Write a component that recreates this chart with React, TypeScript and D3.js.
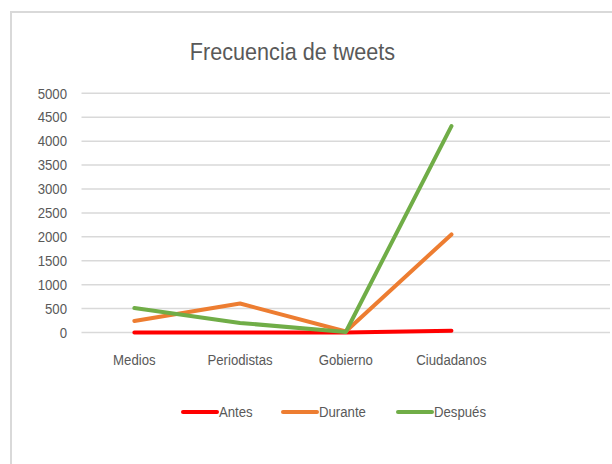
import React from "react";
import * as d3 from "d3";

const categories = ["Medios", "Periodistas", "Gobierno", "Ciudadanos", ""];
const seriesNames = ["Antes", "Durante", "Después"];
const antes = [0, 0, 0, 35];
const durante = [240, 605, 20, 2050];
const despues = [510, 200, 10, 4315];
const yTicks = [0, 500, 1000, 1500, 2000, 2500, 3000, 3500, 4000, 4500, 5000];
const colors = ["#FF0000", "#ED7D31", "#70AD47"];

const W = 612;
const H = 464;
const FONT = "'Liberation Sans', Arial, sans-serif";
const SX = 0.88;

function T(props: {
  x: number;
  y: number;
  size: number;
  anchor?: string;
  sx?: number;
  children: React.ReactNode;
}) {
  const { x, y, size, anchor = "start", sx = SX, children } = props;
  return (
    <text
      transform={`translate(${x},${y}) scale(${sx},1)`}
      dy="0.35em"
      textAnchor={anchor}
      fontSize={size}
      fill="#595959"
    >
      {children}
    </text>
  );
}

export default function App() {
  const x = d3.scaleBand<string>().domain(categories.map((c, i) => c + i)).range([81.5, 610]);
  const y = d3.scaleLinear().domain([0, 5000]).range([332.5, 93.3]);
  const xc = (i: number) => (x(categories[i] + i) as number) + x.bandwidth() / 2;
  const line = d3
    .line<number>()
    .x((_, i) => xc(i))
    .y((d) => y(d));
  const data = [antes, durante, despues];
  const legendX = [183, 283, 398];

  return (
    <svg
      width={W}
      height={H}
      style={{ position: "absolute", left: 0, top: 0, background: "#fff" }}
      fontFamily={FONT}
    >
      <rect x={0} y={0} width={W} height={H} fill="#fff" />
      <rect x={11} y={12} width={W + 10} height={H + 10} fill="#fff" stroke="#d9d9d9" strokeWidth={2} />
      <T x={292.5} y={52} size={24} anchor="middle" sx={0.9}>
        Frecuencia de tweets
      </T>
      {yTicks.map((t) => (
        <line key={t} x1={81.5} x2={610} y1={y(t)} y2={y(t)} stroke="#d9d9d9" strokeWidth={1.5} />
      ))}
      {yTicks.map((t) => (
        <T key={t} x={67} y={y(t)} size={15} anchor="end">
          {t}
        </T>
      ))}
      {categories.map((c, i) => (
        <T key={i} x={xc(i)} y={360} size={15} anchor="middle">
          {c}
        </T>
      ))}
      {data.map((d, k) => (
        <path
          key={k}
          d={line(d) || ""}
          fill="none"
          stroke={colors[k]}
          strokeWidth={4}
          strokeLinecap="round"
          strokeLinejoin="round"
        />
      ))}
      {seriesNames.map((s, k) => (
        <g key={s}>
          <line
            x1={legendX[k]}
            x2={legendX[k] + 34}
            y1={412}
            y2={412}
            stroke={colors[k]}
            strokeWidth={4}
            strokeLinecap="round"
          />
          <T x={legendX[k] + 36} y={412} size={15}>
            {s}
          </T>
        </g>
      ))}
    </svg>
  );
}
